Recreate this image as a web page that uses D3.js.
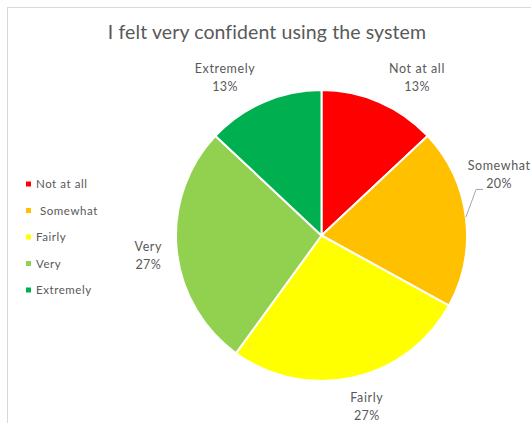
<!DOCTYPE html>
<html>
<head>
<meta charset="utf-8">
<script src="https://cdn.jsdelivr.net/npm/d3@7"></script>
<style>
  html, body { margin: 0; padding: 0; background: #ffffff; }
  svg { display: block; }
  text { font-family: Lato, "Open Sans", sans-serif; fill: #595959; }
</style>
</head>
<body>
<svg id="chart" width="531" height="423"></svg>
<script>
// Survey answers to "I felt very confident using the system"
const categories = ["Not at all", "Somewhat", "Fairly", "Very", "Extremely"];
const percents = [13, 20, 27, 27, 13];
const colors = ["#FF0000", "#FFC000", "#FFFF00", "#92D050", "#00B050"];
const title = "I felt very confident using the system";

const svg = d3.select("#chart");

// chart frame (extends beyond the visible area on the right and bottom)
svg.append("rect")
  .attr("x", 7.5).attr("y", 7.5)
  .attr("width", 700).attr("height", 700)
  .attr("fill", "#fff")
  .attr("stroke", "#d9d9d9").attr("stroke-width", 1);

// title
svg.append("text")
  .attr("x", 267).attr("y", 39)
  .attr("text-anchor", "middle")
  .attr("font-size", 19.5)
  .attr("letter-spacing", 0.1)
  .text(title);

// pie geometry
const cx = 321.5, cy = 235.5, R = 145.5;
const g = svg.append("g").attr("transform", `translate(${cx},${cy})`);

const pie = d3.pie().sort(null).value(d => d.value);
const rows = categories.map((c, i) => ({ name: c, value: percents[i], color: colors[i] }));
const arcs = pie(rows);

const arc = d3.arc().innerRadius(0).outerRadius(R);
const labelArc = d3.arc().innerRadius(180).outerRadius(180);

g.selectAll("path.slice")
  .data(arcs)
  .join("path")
  .attr("class", "slice")
  .attr("d", arc)
  .attr("fill", d => d.data.color)
  .attr("stroke", "#ffffff")
  .attr("stroke-width", 2)
  .attr("stroke-linejoin", "round");

// best-fit style shifts applied to each label from its outer centroid
const labelShift = {
  "Not at all": [24, 8],
  "Somewhat": [-1, -38],
  "Fairly": [6, -4],
  "Very": [6, 4],
  "Extremely": [-25, 8]
};

const labels = g.selectAll("g.label")
  .data(arcs)
  .join("g")
  .attr("class", "label")
  .attr("transform", d => {
    const [x, y] = labelArc.centroid(d);
    const s = labelShift[d.data.name];
    return `translate(${x + s[0]},${y + s[1]})`;
  });

labels.append("text")
  .attr("text-anchor", "middle")
  .attr("y", -5)
  .attr("font-size", 12.5)
  .attr("letter-spacing", 0.6)
  .text(d => d.data.name);

labels.append("text")
  .attr("text-anchor", "middle")
  .attr("y", 13)
  .attr("font-size", 12.5)
  .attr("letter-spacing", 0.4)
  .text(d => d.data.value + "%");

// leader line for the displaced "Somewhat" label
const som = arcs[1];
const [lx, ly] = labelArc.centroid(som);
const s1 = labelShift["Somewhat"];
const mid = (som.startAngle + som.endAngle) / 2;
const edge = d3.pointRadial(mid, R);
const yLead = ly + s1[1] + 14.5;
g.append("path")
  .attr("d", d3.line()([[lx + s1[0] - 16, yLead], [lx + s1[0] - 23, yLead], edge]))
  .attr("fill", "none")
  .attr("stroke", "#a6a6a6")
  .attr("stroke-width", 1);

// legend
const legend = svg.append("g").attr("transform", "translate(26,184)");
const item = legend.selectAll("g")
  .data(rows)
  .join("g")
  .attr("transform", (d, i) => `translate(0,${i * 26.5})`);

item.append("rect")
  .attr("x", 0).attr("y", -2.5)
  .attr("width", 5).attr("height", 5)
  .attr("fill", d => d.color);

item.append("text")
  .attr("x", d => d.name === "Somewhat" ? 14 : 10)
  .attr("y", 4)
  .attr("font-size", 11.5)
  .attr("letter-spacing", 0.55)
  .text(d => d.name);
</script>
</body>
</html>
